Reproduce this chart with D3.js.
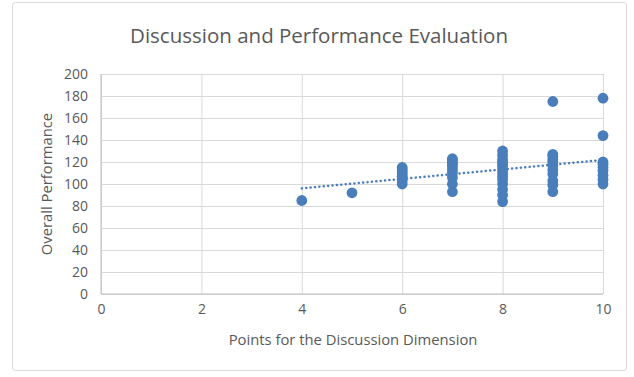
<!DOCTYPE html>
<html>
<head>
<meta charset="utf-8">
<script src="https://cdn.jsdelivr.net/npm/d3@7"></script>
<style>
  html, body { margin: 0; padding: 0; background: #fff; }
  svg { display: block; font-family: "Open Sans", "Liberation Sans", sans-serif; }
</style>
</head>
<body>
<svg id="chart" width="634" height="377"></svg>
<script>
// Points awarded for the discussion dimension, and overall performance per student
const discussionPoints = [
  4,
  5,
  6, 6, 6, 6, 6, 6, 6, 6,
  7, 7, 7, 7, 7, 7, 7, 7, 7, 7,
  8, 8, 8, 8, 8, 8, 8, 8, 8, 8, 8, 8, 8, 8,
  9, 9, 9, 9, 9, 9, 9, 9, 9, 9, 9,
  10, 10, 10, 10, 10, 10, 10, 10, 10
];
const overallPerformance = [
  85,
  92,
  100, 103, 105, 107, 109, 111, 113, 115,
  93, 100, 106, 110, 113, 116, 118, 120, 122, 123,
  84, 90, 95, 100, 104, 107, 110, 113, 116, 118, 120, 122, 126, 130,
  93, 99, 103, 109, 113, 117, 120, 122, 125, 127, 175,
  100, 104, 108, 112, 115, 118, 120, 144, 178
];
const xTicks = [0, 2, 4, 6, 8, 10];
const yTicks = [0, 20, 40, 60, 80, 100, 120, 140, 160, 180, 200];

const chartTitle = "Discussion and Performance Evaluation";
const xTitle = "Points for the Discussion Dimension";
const yTitle = "Overall Performance";

const svg = d3.select("#chart");
const plot = { left: 101, right: 603, top: 74, bottom: 294 };
const textColor = "#595959";
const gridColor = "#d9d9d9";
const markColor = "#4a7ebb";

// Chart frame
svg.append("rect")
  .attr("x", 12.5).attr("y", 2.5)
  .attr("width", 614).attr("height", 368)
  .attr("rx", 3)
  .attr("fill", "#fff")
  .attr("stroke", "#d9d9d9");

const x = d3.scaleLinear().domain([0, 10]).range([plot.left, plot.right]);
const y = d3.scaleLinear().domain([0, 200]).range([plot.bottom, plot.top]);

// Horizontal gridlines
svg.append("g")
  .attr("transform", `translate(${plot.left},0)`)
  .call(d3.axisLeft(y).tickValues(yTicks).tickSize(-(plot.right - plot.left)).tickFormat(""))
  .call(g => g.select(".domain").remove())
  .call(g => g.selectAll("line").attr("stroke", gridColor).attr("stroke-width", 1));

// Vertical gridlines
svg.append("g")
  .attr("transform", `translate(0,${plot.bottom})`)
  .call(d3.axisBottom(x).tickValues(xTicks).tickSize(-(plot.bottom - plot.top)).tickFormat(""))
  .call(g => g.select(".domain").remove())
  .call(g => g.selectAll("line").attr("stroke", gridColor).attr("stroke-width", 1));

// Axis lines
svg.append("line")
  .attr("x1", plot.left).attr("x2", plot.right)
  .attr("y1", y(0)).attr("y2", y(0))
  .attr("stroke", "#bfbfbf");
svg.append("line")
  .attr("x1", plot.left).attr("x2", plot.left)
  .attr("y1", y(0)).attr("y2", y(200))
  .attr("stroke", "#bfbfbf");

// Tick labels
const yAxis = svg.append("g")
  .attr("transform", `translate(${plot.left - 13},0)`)
  .call(d3.axisLeft(y).tickValues(yTicks).tickSize(0).tickPadding(0))
  .call(g => g.select(".domain").remove());
yAxis.selectAll("text")
  .attr("fill", textColor)
  .style("font-size", "14px")
  .style("font-family", "Open Sans, sans-serif");

const xAxis = svg.append("g")
  .attr("transform", `translate(0,${plot.bottom + 10})`)
  .call(d3.axisBottom(x).tickValues(xTicks).tickSize(0).tickPadding(0))
  .call(g => g.select(".domain").remove());
xAxis.selectAll("text")
  .attr("fill", textColor)
  .attr("dy", "0.71em")
  .style("font-size", "14px")
  .style("font-family", "Open Sans, sans-serif");

// Linear trendline (least squares)
const n = discussionPoints.length;
const mx = d3.mean(discussionPoints), my = d3.mean(overallPerformance);
let sxy = 0, sxx = 0;
for (let i = 0; i < n; i++) {
  sxy += (discussionPoints[i] - mx) * (overallPerformance[i] - my);
  sxx += (discussionPoints[i] - mx) ** 2;
}
const slope = sxy / sxx, intercept = my - slope * mx;
const xExtent = d3.extent(discussionPoints);
svg.append("line")
  .attr("x1", x(xExtent[0])).attr("y1", y(intercept + slope * xExtent[0]))
  .attr("x2", x(xExtent[1])).attr("y2", y(intercept + slope * xExtent[1]))
  .attr("stroke", markColor)
  .attr("stroke-width", 2.5)
  .attr("stroke-linecap", "round")
  .attr("stroke-dasharray", "0.1,4.3");

// Scatter points
svg.append("g")
  .selectAll("circle")
  .data(d3.range(n))
  .join("circle")
  .attr("cx", i => x(discussionPoints[i]))
  .attr("cy", i => y(overallPerformance[i]))
  .attr("r", 5.4)
  .attr("fill", markColor);

// Titles
svg.append("text")
  .attr("x", 319).attr("y", 43)
  .attr("text-anchor", "middle")
  .attr("fill", textColor)
  .style("font-size", "20.5px")
  .text(chartTitle);

svg.append("text")
  .attr("x", 353).attr("y", 345)
  .attr("text-anchor", "middle")
  .attr("fill", textColor)
  .style("font-size", "14.8px")
  .text(xTitle);

svg.append("text")
  .attr("transform", `translate(52,${(plot.top + plot.bottom) / 2}) rotate(-90)`)
  .attr("text-anchor", "middle")
  .attr("fill", textColor)
  .style("font-size", "14.8px")
  .text(yTitle);
</script>
</body>
</html>
